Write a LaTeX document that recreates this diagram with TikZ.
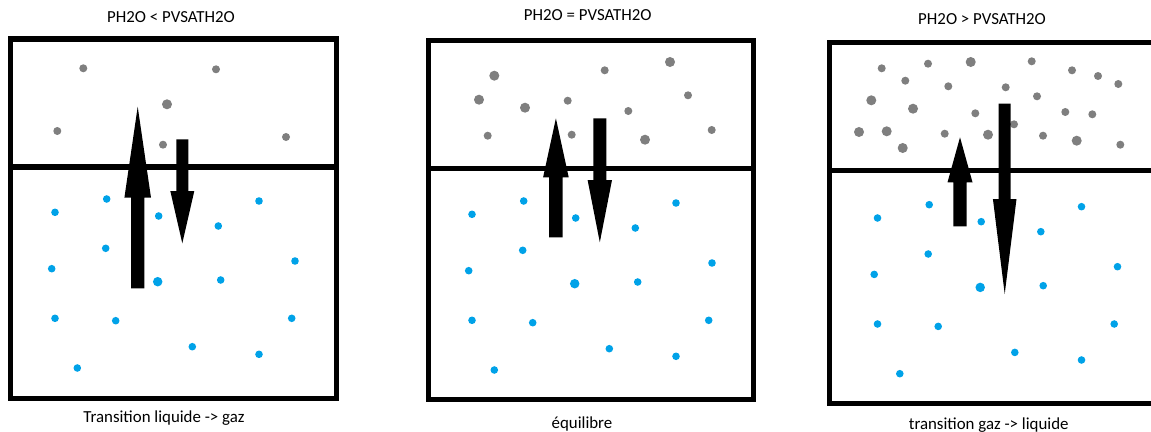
\documentclass[tikz,border=0pt]{standalone}
\usepackage{fontspec}
\setmainfont{Carlito}
\definecolor{vapour}{HTML}{7F7F7F}
\definecolor{water}{HTML}{00A2E8}

% fat arrow: x, half shaft, tail y, head base y, half head, tip y
\newcommand{\fatarrow}[6]{%
  \fill (#1-#2,#3) -- (#1-#2,#4) -- (#1-#5,#4) -- (#1,#6)
    -- (#1+#5,#4) -- (#1+#2,#4) -- (#1+#2,#3) -- cycle;}

% liquid molecules, same pattern in every tank
\newcommand{\waterdots}{%
  \foreach \px/\py/\rr in {106.7/199/2.16, 55/212.3/2.16, 158.7/216/2.16,
      259/201/2.16, 218.3/226/2.16, 105.7/248.3/2.16, 51.7/268.7/2.16,
      295/261/2.16, 157.7/281.7/2.7, 220.7/280/2.16, 55/318.3/2.16,
      115.7/320.7/2.16, 291.7/318.3/2.16, 192.3/346.7/2.16, 259/354.3/2.16,
      77.3/368/2.16}
    \fill[liquid] (\px,\py) circle (\rr pt);}

\begin{document}
\begin{tikzpicture}[
    x=0.02cm, y=-0.02cm,
    tank/.style={draw, line width=2.85pt},
    gas/.style={fill=vapour},
    liquid/.style={fill=water},
    caption/.style={font=\fontsize{9.6pt}{11pt}\selectfont, inner sep=0pt}
    ]

    \useasboundingbox (0,0) rectangle (1151,432);
    \clip (0,0) rectangle (1151,432);

    % Tank 1 - liquide -> gaz
    \node[caption] (title1) at (171,17) {PH2O < PVSATH2O};
    \draw[tank] (10.8,39) rectangle (336.7,398.5);
    \draw[tank] (10.8,167) -- (336.7,167);
    \foreach \px/\py/\rr in {83.3/68.3/2.28, 216/69.3/2.28, 167/104.3/2.85,
        57.3/131/2.28, 163/144.7/2.28, 286/137/2.28}
      \fill[gas] (\px,\py) circle (\rr pt);
    \waterdots
    \fatarrow{137.7}{6.7}{288.3}{197.7}{13.3}{106.7}
    \fatarrow{182.3}{6}{139.3}{191}{12}{243.3}
    \node[caption] (label1) at (164,418) {Transition liquide -> gaz};

    % Tank 2 - equilibre
    \node[caption] (title2) at (587.7,15) {PH2O = PVSATH2O};
    \draw[tank] (428.2,40.2) rectangle (753.5,399.2);
    \draw[tank] (428.2,168.5) -- (753.5,168.5);
    \foreach \px/\py/\rr in {494.3/75.7/2.85, 604.7/70.3/2.28, 670/62/2.85,
        479/99.7/2.85, 525/107.7/2.85, 567.7/100.7/2.28, 688/95.3/2.28,
        628.3/111/2.28, 487.7/135.7/2.28, 571.7/134.7/2.28, 645/139.7/2.85,
        711.7/130/2.28}
      \fill[gas] (\px,\py) circle (\rr pt);
    \begin{scope}[shift={(417,2)}]
      \waterdots
    \end{scope}
    \fatarrow{555.9}{6.8}{237.3}{177.3}{12.8}{118.3}
    \fatarrow{599.8}{6.5}{118.3}{180}{12.2}{242.3}
    \node[caption] (label2) at (582,424) {équilibre};

    % Tank 3 - gaz -> liquide
    \node[caption] (title3) at (982,19) {PH2O > PVSATH2O};
    \draw[tank] (829.7,42.5) rectangle (1170,403);
    \draw[tank] (829.7,170.8) -- (1170,170.8);
    \foreach \px/\py/\rr in {881.7/68.3/2.28, 928/63.7/2.28, 970.7/62/2.85,
        1031.7/61.3/2.28, 1072/70.3/2.28, 1098/76/2.28, 1118.3/84/2.28,
        905.3/80.7/2.28, 948.3/86.3/2.28, 1005.7/87.3/2.28, 1037/96.3/2.28,
        871.3/100.3/2.85, 913/108.7/2.85, 975.3/113.3/2.28, 1065.3/112/2.28,
        1092.3/114.3/2.28, 1014/124.3/2.28, 859/132/2.85, 886.7/131.3/2.85,
        944.7/133.7/2.28, 988/134.7/2.85, 1043/135.7/2.28, 1076.7/140.7/2.85,
        1120.3/144.7/2.28, 902.7/148/2.85}
      \fill[gas] (\px,\py) circle (\rr pt);
    \begin{scope}[shift={(822.5,5.7)}]
      \waterdots
    \end{scope}
    \fatarrow{960}{6.7}{226.3}{182.3}{12.5}{137.3}
    \fatarrow{1004.7}{6}{103.7}{199}{11.8}{294}
    \node[caption] (label3) at (988.7,425) {transition gaz -> liquide};

\end{tikzpicture}
\end{document}
